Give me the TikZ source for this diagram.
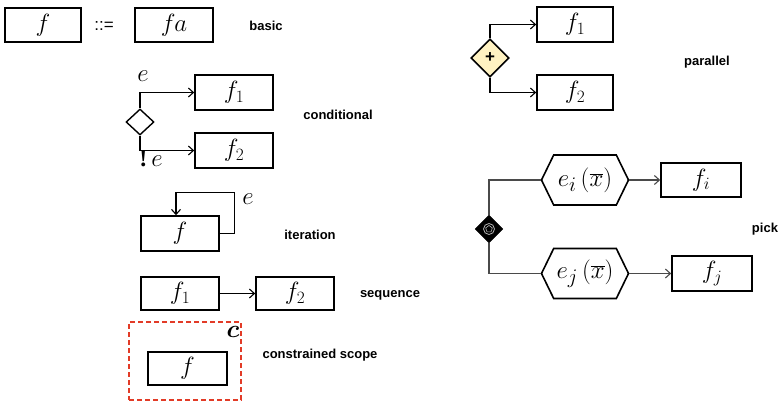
\documentclass[tikz,border=0pt]{standalone}
\usepackage{fontspec}
\setmainfont{Liberation Serif}
\newfontfamily\labelfont{Liberation Sans}
\usetikzlibrary{arrows.meta,shapes.geometric,shapes.symbols}

\definecolor{parfill}{HTML}{FFF2C2}
\definecolor{scopered}{HTML}{E23B27}
\definecolor{pickline}{HTML}{4A4A4A}

\tikzset{
  fbox/.style={draw,line width=1.6pt,minimum width=78pt,minimum height=35pt,inner sep=0pt,
    font=\fontsize{26}{28}\selectfont},
  conn/.style={line width=1.1pt},
  arr/.style={conn,-{Straight Barb[length=5pt,width=9pt,line width=1.1pt]}},
  pconn/.style={line width=1.1pt,draw=pickline},
  parr/.style={pconn,-{Straight Barb[length=5pt,width=9pt,line width=1.1pt]}},
  caption/.style={font=\labelfont\bfseries\fontsize{13}{15}\selectfont,inner sep=0pt},
  sym/.style={font=\fontsize{24}{26}\selectfont,inner sep=0pt},
  hexa/.style={draw,line width=1.6pt,signal,signal to=east and west,signal pointer angle=128,
    minimum width=87pt,minimum height=50pt,inner sep=0pt,font=\fontsize{28}{30}\selectfont},
}

\begin{document}
\begin{tikzpicture}[x=1pt,y=-1pt]
\useasboundingbox (0,0) rectangle (780,404);

% basic
\node[fbox,minimum width=76pt,minimum height=34pt] (bf) at (43,25) {$f$};
\node[font=\labelfont\fontsize{17}{17}\selectfont,inner sep=0pt] (def) at (104,26) {::=};
\node[fbox,minimum width=78pt,minimum height=34pt] (bfa) at (174,25) {$f$\hspace{-1pt}{\fontsize{30}{30}\selectfont$a$}};
\node[caption] (lbasic) at (266,26) {basic};

% conditional
\node[draw,diamond,line width=1.4pt,minimum width=28pt,minimum height=26pt,inner sep=0pt] (cd) at (140,122) {};
\node[fbox] (c1) at (234,92.5) {$f_{1}$};
\node[fbox] (c2) at (234,150.5) {$f_{2}$};
\draw[arr] (cd.north) |- (c1.west);
\draw[arr] (cd.south) |- (c2.west);
\node[sym] (ce) at (143,76) {$e$};
\node[sym] (cne) at (151,159) {\textbf{!}\,$e$};
\node[caption] (lcond) at (338,115) {conditional};

% iteration
\node[fbox] (itf) at (180,233.5) {$f$};
\draw[arr] (itf.east) -- ++(15,0) |- ([xshift=-4pt,yshift=23pt]itf.north) -- ([xshift=-4pt]itf.north);
\node[sym,font=\fontsize{28}{30}\selectfont] (ite) at (248,199) {$e$};
\node[caption] (liter) at (310,235) {iteration};

% sequence
\node[fbox,minimum height=33pt] (s1) at (180,293.5) {$f_{1}$};
\node[fbox,minimum height=33pt] (s2) at (295,293.5) {$f_{2}$};
\draw[arr] (s1) -- (s2);
\node[caption] (lseq) at (390,295) {sequence};

% constrained scope
\node[draw=scopered,dash pattern=on 5pt off 3pt,line width=1.6pt,minimum width=112pt,minimum height=78pt,inner sep=0pt] (scope) at (185,361) {};
\node[fbox,minimum width=79pt,minimum height=33pt] (cf) at (187.5,368.5) {$f$};
\node[inner sep=0pt,font=\fontsize{24}{26}\selectfont\boldmath] (sc) at (233,332) {$c$};
\node[caption] (lscope) at (320,355) {constrained scope};

% parallel
\node[draw,diamond,fill=parfill,line width=1.6pt,minimum width=38pt,minimum height=38pt,inner sep=0pt,
  font=\labelfont\bfseries\fontsize{17}{17}\selectfont] (pd) at (490,58) {+};
\node[fbox,minimum width=76pt] (p1) at (575,24.5) {$f_{1}$};
\node[fbox,minimum width=76pt] (p2) at (575,92.5) {$f_{2}$};
\draw[arr] (pd.north) |- (p1.west);
\draw[arr] (pd.south) |- (p2.west);
\node[caption] (lpar) at (707,62) {parallel};

% pick
\node[draw,diamond,fill=black,minimum width=28pt,minimum height=28pt,inner sep=0pt] (kd) at (489,229) {};
\node[circle,draw=gray!60,line width=0.8pt,minimum size=11pt,inner sep=0pt] (kc) at (kd.center) {};
\node[regular polygon,regular polygon sides=5,draw=gray!60,line width=0.6pt,minimum size=7pt,inner sep=0pt] (kp) at (kd.center) {};
\node[hexa] (ei) at (585,180) {$e_{i}\,(\overline{x})$};
\node[hexa] (ej) at (585,273.5) {$e_{j}\,(\overline{x})$};
\node[fbox,minimum width=80pt,minimum height=34pt] (fi) at (701,180) {$f_{i}$};
\node[fbox,minimum width=80pt,minimum height=35pt] (fj) at (712,273.5) {$f_{j}$};
\draw[pconn] (kd.north) |- (ei.west);
\draw[pconn] (kd.south) |- (ej.west);
\draw[parr] (ei.east) -- (fi.west);
\draw[parr] (ej.east) -- (fj.west);
\node[caption] (lpick) at (765,229) {pick};
\end{tikzpicture}
\end{document}
